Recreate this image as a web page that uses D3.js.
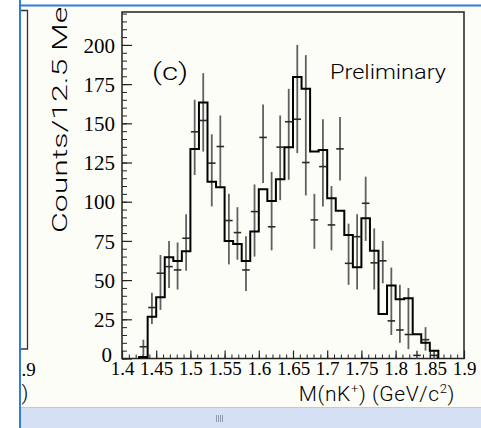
<!DOCTYPE html>
<html><head><meta charset="utf-8">
<script src="https://cdn.jsdelivr.net/npm/d3@7"></script>
<style>html,body{margin:0;padding:0;background:#fff;overflow:hidden}svg{display:block}</style>
</head><body><svg id="c" width="481" height="428"></svg>
<script>
// ---- data ----
const binWidth = 0.0125;
const binLow = [1.425,1.4375,1.45,1.4625,1.475,1.4875,1.5,1.5125,1.525,1.5375,1.55,1.5625,1.575,1.5875,1.6,1.6125,1.625,1.6375,1.65,1.6625,1.675,1.6875,1.7,1.7125,1.725,1.7375,1.75,1.7625,1.775,1.7875,1.8,1.8125,1.825,1.8375,1.85];
const histCounts = [1,26.7,39,64.6,62.2,68.4,133.7,163.2,112.8,109.2,75,73,62.2,81,108,100.5,114.3,134.8,179.5,172,132,133,102.2,94.3,78.8,58.2,89.5,68.8,28.4,46.5,37.8,38.4,15.5,10,5];
const dataCounts = [7.5,32.5,54.4,58.6,56.5,76.7,144.6,151.8,124.6,135.2,88,80.3,56.5,93.7,141,84,134.8,151,152.6,125,88.4,122.4,85.2,133.7,60.7,77.7,99,61,62.3,24,18.2,15.3,2,12,2];
const errLow  = [1,22,31,45,44,56,117,132,97,109,60,63,43,65,112,69,101,114,131,104,70,97,69,113.5,47,44,75,44,48,15,10,6,0,5,0];
const errHigh = [12,42,66,75,74,92,165,182,143,155,105,96.5,78,111,162,119,155,172,200,193.5,105,152.6,110,154,86,92,116,83,75,58,47,45,5,20,5];
const yTicks = [0,25,50,75,100,125,150,175,200];
const xTicks = [1.4,1.45,1.5,1.55,1.6,1.65,1.7,1.75,1.8,1.85,1.9];
const xTickLabels = ["1.4","1.45","1.5","1.55","1.6","1.65","1.7","1.75","1.8","1.85","1.9"];
const yTitle = "Counts/12.5 MeV";
const panelLabel = "(c)";
const noteText = "Preliminary";

// ---- layout ----
const SANS = "Roboto, Liberation Sans, Arial, sans-serif";
const SERIF = "Liberation Serif, Times New Roman, serif";
const svg = d3.select("#c");
const X0 = 122, X1 = 464, Y0 = 358.5, Y1 = 12;
const x = d3.scaleLinear().domain([1.4, 1.9]).range([X0, X1]);
const y = d3.scaleLinear().domain([0, 221]).range([Y0, Y1]);

svg.append("rect").attr("width",481).attr("height",428).attr("fill","#ffffff");
svg.append("defs").append("clipPath").attr("id","win")
  .append("rect").attr("x",21).attr("y",7).attr("width",460).attr("height",400);
const g = svg.append("g").attr("clip-path","url(#win)");
g.append("rect").attr("x",21).attr("y",7).attr("width",460).attr("height",401).attr("fill","#fdfdf8");

// fragment of the neighbouring panel on the left
g.append("path").attr("d","M21,10.5H27.5V349H21").attr("fill","none").attr("stroke","#333").attr("stroke-width",1.3);
svg.append("text").attr("x",21.5).attr("y",376)
  .attr("font-family",SERIF).attr("font-size",19).text(".9");
svg.append("text").attr("x",21.5).attr("y",400)
  .attr("font-family",SANS).attr("font-weight",300).attr("font-size",21).text(")");

// y axis title (stretched along its length, partly cut off at top)
g.append("text")
  .attr("transform","translate(67,233) rotate(-90)")
  .attr("font-family",SANS).attr("font-weight",300).attr("font-size",20)
  .attr("textLength",246).attr("lengthAdjust","spacingAndGlyphs")
  .text(yTitle);

// minor ticks
const yMinor = d3.range(0, 221, 5);
const xMinor = d3.range(0, 51).map(i => 1.4 + i*0.01);
g.append("g").attr("transform",`translate(${X0},0)`)
  .call(d3.axisLeft(y).tickValues(yMinor).tickSize(-5).tickFormat(""))
  .call(a => a.select(".domain").remove())
  .call(a => a.selectAll("line").attr("stroke","#222").attr("stroke-width",1));
g.append("g").attr("transform",`translate(0,${Y0})`)
  .call(d3.axisBottom(x).tickValues(xMinor).tickSize(-4).tickFormat(""))
  .call(a => a.select(".domain").remove())
  .call(a => a.selectAll("line").attr("stroke","#222").attr("stroke-width",1));

// major ticks + labels
g.append("g").attr("transform",`translate(${X0},0)`)
  .call(d3.axisLeft(y).tickValues(yTicks).tickSize(-10).tickPadding(7))
  .call(a => a.select(".domain").remove())
  .call(a => a.selectAll("line").attr("stroke","#222").attr("stroke-width",1.2))
  .call(a => a.selectAll("text").attr("font-family",SERIF)
       .attr("font-size",21).attr("fill","#000").attr("dy","0.34em"))
  .call(a => a.selectAll(".tick").filter(d => d === 0).select("text")
       .attr("x",-10).attr("dy","0.15em"));
g.append("g").attr("transform",`translate(0,${Y0})`)
  .call(d3.axisBottom(x).tickValues(xTicks).tickSize(-8).tickPadding(3)
        .tickFormat((d,i) => xTickLabels[i]))
  .call(a => a.select(".domain").remove())
  .call(a => a.selectAll("line").attr("stroke","#222").attr("stroke-width",1.2))
  .call(a => a.selectAll("text").attr("font-family",SERIF)
       .attr("font-size",19).attr("fill","#000"));

// frame
g.append("rect").attr("x",X0).attr("y",Y1).attr("width",X1-X0).attr("height",Y0-Y1)
  .attr("fill","none").attr("stroke","#222").attr("stroke-width",1.5);

// error bars (vertical)
g.append("g").selectAll("line").data(binLow).join("line")
  .attr("x1",(d)=>x(d+binWidth/2)).attr("x2",(d)=>x(d+binWidth/2))
  .attr("y1",(d,i)=>y(errLow[i])).attr("y2",(d,i)=>y(errHigh[i]))
  .attr("stroke","#606060").attr("stroke-width",1.8);

// histogram
const pts = [[x(binLow[0]), y(0)]];
binLow.forEach((d,i) => { pts.push([x(d), y(histCounts[i])]); pts.push([x(d+binWidth), y(histCounts[i])]); });
pts.push([x(binLow[binLow.length-1]+binWidth), y(0)]);
g.append("path").attr("d", d3.line()(pts)).attr("fill","none").attr("stroke","#000").attr("stroke-width",2);

// data point markers (horizontal bin-width bars)
g.append("g").selectAll("line").data(binLow).join("line")
  .attr("x1",(d)=>x(d)+0.5).attr("x2",(d)=>x(d+binWidth)-0.5)
  .attr("y1",(d,i)=>y(dataCounts[i])).attr("y2",(d,i)=>y(dataCounts[i]))
  .attr("stroke","#2a2a2a").attr("stroke-width",1.6);

// labels
g.append("text").attr("x",152).attr("y",80).attr("font-family",SANS).attr("font-weight",300)
  .attr("font-size",24).attr("textLength",36).attr("lengthAdjust","spacingAndGlyphs").text(panelLabel);
g.append("text").attr("x",330).attr("y",79).attr("font-family",SANS).attr("font-weight",300)
  .attr("font-size",21).attr("textLength",116).attr("lengthAdjust","spacingAndGlyphs").text(noteText);

// x axis title
const xt = g.append("text").attr("x",455).attr("y",401).attr("text-anchor","end")
  .attr("font-family",SANS).attr("font-weight",300).attr("font-size",21).attr("letter-spacing",0.6);
xt.append("tspan").text("M(nK");
xt.append("tspan").attr("dy",-8).attr("font-size",13).text("+");
xt.append("tspan").attr("dy",8).text(") (GeV/c");
xt.append("tspan").attr("dy",-8).attr("font-size",13).text("2");
xt.append("tspan").attr("dy",8).text(")");

// window chrome: borders and scrollbar
svg.append("rect").attr("x",21).attr("y",408).attr("width",460).attr("height",20).attr("fill","#d5e0f5");
svg.append("line").attr("x1",21).attr("x2",481).attr("y1",407.5).attr("y2",407.5).attr("stroke","#b9c9e6").attr("stroke-width",1);
const grip = svg.append("g").attr("stroke","#8f9bb3").attr("stroke-width",1);
[0,2,4,6].forEach(o => grip.append("line").attr("x1",216+o+0.5).attr("x2",216+o+0.5).attr("y1",415).attr("y2",422));
svg.append("line").attr("x1",20).attr("x2",20).attr("y1",0).attr("y2",428).attr("stroke","#2f7fd6").attr("stroke-width",2);
svg.append("line").attr("x1",20).attr("x2",481).attr("y1",5.5).attr("y2",5.5).attr("stroke","#2f7fd6").attr("stroke-width",2);
</script></body></html>
